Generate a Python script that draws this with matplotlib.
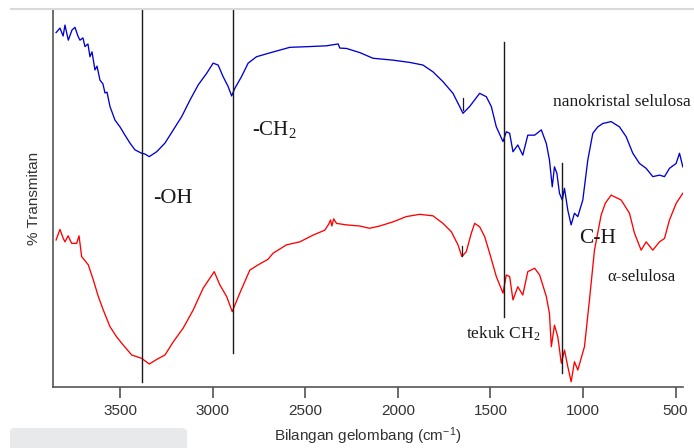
import matplotlib.pyplot as plt
from matplotlib.patches import FancyBboxPatch
from matplotlib.lines import Line2D
import numpy as np

# spektrum FTIR: nanokristal selulosa (atas) dan alfa-selulosa (bawah)
w_nano = [3845, 3824, 3807, 3797, 3779, 3759, 3743, 3727, 3716, 3700, 3689, 3673, 3662, 3651,
          3635, 3624, 3608, 3592, 3581, 3570, 3554, 3527, 3500, 3473, 3446, 3419, 3383, 3365,
          3342, 3302, 3257, 3212, 3167, 3122, 3078, 3032, 2997, 2970, 2943, 2916, 2897, 2880,
          2844, 2808, 2763, 2700, 2583, 2475, 2385, 2322, 2313, 2277, 2205, 2134, 2026, 1936,
          1864, 1810, 1756, 1702, 1666, 1648, 1612, 1558, 1522, 1495, 1468, 1432, 1414, 1396,
          1378, 1352, 1325, 1298, 1261, 1225, 1198, 1181, 1166, 1154, 1141, 1127, 1112, 1100,
          1082, 1064, 1046, 1028, 1001, 974, 947, 920, 893, 848, 803, 767, 731, 695, 659, 623,
          587, 560, 533, 497, 479, 461]
t_nano = [94.0, 95.2, 93.1, 96.0, 92.0, 94.7, 95.4, 93.1, 92.0, 92.6, 90.3, 91.0, 87.6, 88.9,
          84.1, 85.1, 81.4, 80.4, 78.0, 78.2, 74.4, 70.8, 69.0, 66.8, 64.7, 62.9, 62.0, 61.8,
          61.1, 62.4, 64.7, 68.2, 71.7, 76.1, 80.1, 83.2, 85.9, 85.4, 82.3, 79.7, 77.2, 79.2,
          82.3, 85.9, 87.6, 88.5, 90.1, 90.3, 90.5, 91.0, 89.9, 89.8, 88.7, 87.2, 86.7, 86.1,
          85.4, 83.6, 81.0, 77.9, 74.4, 72.6, 74.4, 77.9, 77.0, 74.4, 69.0, 65.1, 67.7, 67.3,
          62.4, 64.2, 61.5, 66.8, 66.8, 68.2, 64.6, 60.2, 53.1, 58.4, 56.7, 51.4, 49.6, 52.7,
          46.9, 43.0, 46.1, 45.2, 49.6, 60.2, 67.3, 69.0, 69.9, 70.4, 69.0, 66.4, 62.0, 59.3,
          58.0, 55.8, 56.2, 55.8, 58.0, 59.3, 62.0, 58.4]

w_alfa = [3845, 3824, 3807, 3797, 3780, 3761, 3734, 3721, 3707, 3671, 3644, 3617, 3590, 3554,
          3518, 3482, 3437, 3383, 3342, 3302, 3257, 3212, 3159, 3105, 3051, 2991, 2961, 2924,
          2894, 2853, 2799, 2754, 2700, 2673, 2601, 2529, 2457, 2394, 2373, 2363, 2356, 2346,
          2331, 2277, 2205, 2152, 2098, 2026, 1954, 1882, 1810, 1756, 1711, 1675, 1654, 1630,
          1603, 1585, 1558, 1531, 1504, 1468, 1432, 1414, 1396, 1378, 1352, 1325, 1298, 1261,
          1234, 1198, 1181, 1171, 1154, 1136, 1117, 1100, 1082, 1064, 1046, 1028, 992, 965,
          938, 902, 879, 848, 794, 749, 722, 686, 659, 623, 587, 560, 533, 497, 461]
t_alfa = [39.0, 41.8, 39.5, 38.5, 40.1, 38.1, 38.1, 40.1, 34.6, 32.4, 28.4, 24.0, 20.4, 16.0,
          13.3, 11.1, 8.5, 7.6, 6.1, 7.3, 8.5, 12.0, 15.6, 20.4, 26.2, 30.6, 27.1, 24.0,
          20.0, 24.9, 31.0, 32.4, 33.9, 35.5, 37.7, 38.5, 40.3, 41.6, 43.2, 44.3, 42.7, 44.6,
          43.4, 43.0, 42.7, 42.1, 42.7, 43.8, 45.2, 45.8, 45.4, 43.4, 41.2, 37.7, 34.6, 35.9,
          40.8, 43.4, 42.5, 39.9, 35.5, 29.3, 24.9, 29.7, 29.3, 23.1, 26.6, 24.4, 30.6, 31.5,
          29.7, 24.0, 19.5, 10.7, 16.4, 13.3, 6.3, 9.8, 5.4, 1.4, 6.7, 4.5, 10.7, 23.1,
          36.3, 45.6, 48.8, 50.9, 49.6, 46.1, 40.8, 36.3, 38.5, 36.3, 38.5, 39.4, 44.3, 48.7, 51.4]

# garis penanda gugus: (bilangan gelombang, y bawah, y atas)
penanda = [(3383, 1.3, 100), (2892, 9.0, 100), (1429, 18.6, 91.5), (1111, 3.7, 59.4)]

xticks = [3500, 3000, 2500, 2000, 1500, 1000, 500]

fig = plt.figure(figsize=(6.94, 4.48), dpi=100)
ax = fig.add_axes([53.3/694, 61/448, (683-53.3)/694, 377/448])

ax.plot(w_nano, t_nano, color='#0000d2', lw=0.95)
ax.plot(w_alfa, t_alfa, color='#ff0000', lw=0.95)

for w, y0, y1 in penanda:
    ax.plot([w, w], [y0, y1], color='#1a1a1a', lw=1.0)

# tanda kecil pada puncak 1650
ax.plot([1650, 1650], [73.5, 76.7], color='#1a1a1a', lw=0.9)
ax.plot([1652, 1652], [34.7, 37.4], color='#1a1a1a', lw=0.9)

ax.set_xlim(3860, 460)
ax.set_ylim(0, 100)
ax.set_xticks(xticks)
ax.set_yticks([])
ax.tick_params(axis='x', direction='out', length=8, width=1.1, colors='#444444',
               labelcolor='#333333', labelsize=11, pad=4.5)
for lab in ax.get_xticklabels():
    lab.set_fontfamily('Liberation Sans')
for s in ['top', 'right']:
    ax.spines[s].set_visible(False)
for s in ['left', 'bottom']:
    ax.spines[s].set_color('#555555')
    ax.spines[s].set_linewidth(1.2)

plt.rcParams['mathtext.default'] = 'regular'
ax.set_xlabel('Bilangan gelombang (cm$^{-1}$)', fontsize=11, color='#333333',
              family='Liberation Sans', labelpad=5)
ax.set_ylabel('% Transmitan', fontsize=11, color='#333333', family='Liberation Sans',
              labelpad=9)

serif = dict(family='Liberation Serif', color='#1a1a1a', ha='left', va='center')
ax.text(2788, 68.4, '-CH$_2$', fontsize=15, **serif)
ax.text(3322, 49.9, '-OH', fontsize=16, **serif)
ax.text(1164, 75.6, 'nanokristal selulosa', fontsize=12.5, **serif)
ax.text(1019, 39.3, 'C-H', fontsize=15.5, **serif)
ax.text(868, 29.2, 'α-selulosa', fontsize=12, **serif)
ax.text(1634, 14.1, 'tekuk CH$_2$', fontsize=12.5, **serif)

# garis tepi atas dan kotak abu-abu di pojok kiri bawah
fig.add_artist(Line2D([11/694, 1], [1 - 9.5/448, 1 - 9.5/448], color='#d9d9d9', lw=1.5))
fig.add_artist(FancyBboxPatch((10/694, -0.02), 177/694, 0.02 + 20/448,
                              boxstyle='round,pad=0,rounding_size=0.008',
                              facecolor='#e8e9eb', edgecolor='none'))

fig.savefig('out.png', dpi=100)
